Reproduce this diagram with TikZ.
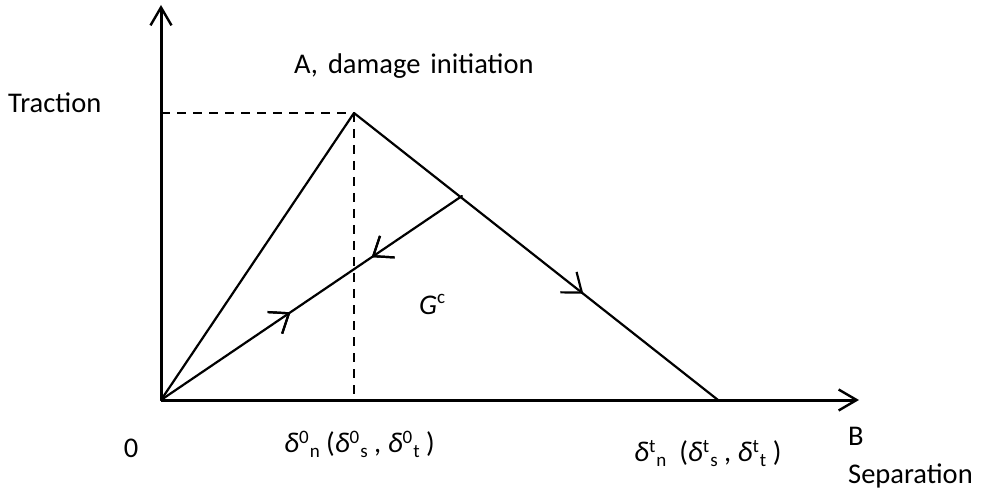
\documentclass[tikz,border=0pt]{standalone}
\usepackage{fontspec}
\setmainfont{Carlito}
\usetikzlibrary{arrows.meta,decorations.markings}
\newcommand{\smf}{\fontsize{19}{22}\selectfont}
\newcommand{\dl}[2]{\textit{δ}\raisebox{9pt}{\smf #1}\raisebox{-5pt}{\smf\kern1pt #2}}
\tikzset{
  barbtip/.tip={Straight Barb[length=17pt,width=26pt,line width=2.2pt]},
  axistip/.tip={Straight Barb[length=18pt,width=21pt,line width=2.4pt]},
  ln/.style={line width=2.2pt,line cap=round},
  axis/.style={line width=3pt,-axistip},
  dsh/.style={line width=2.5pt,dash pattern=on 9pt off 7pt},
  lbl/.style={font=\fontsize{28.5}{34}\selectfont,inner sep=0pt},
  midfwd/.style={postaction={decorate},decoration={markings,mark=at position #1 with {\arrow{barbtip}}}},
  midback/.style={postaction={decorate},decoration={markings,mark=at position #1 with {\arrowreversed{barbtip}}}}
}
\begin{document}
\begin{tikzpicture}[x=1pt,y=-1pt]
\useasboundingbox (0,0) rectangle (983,497);
\coordinate (O) at (161,400);
\coordinate (Ytop) at (161,5);
\coordinate (Xend) at (859,400);
\coordinate (A) at (354,113);
\coordinate (Ay) at (161,113);
\coordinate (Ax) at (354,400);
\coordinate (Bd) at (718,400);
\coordinate (U) at (462,196);
\draw[axis] (O) -- (Ytop);
\draw[axis] (O) -- (Xend);
\draw[dsh] (Ay) -- (A);
\draw[dsh] (A) -- (Ax);
\draw[ln] (O) -- (A);
\draw[ln,midfwd=0.63] (A) -- (Bd);
\draw[ln,midfwd=0.43,midback=0.70] (O) -- (U);
\node[lbl,anchor=base west] (trac) at (8,113) {Traction};
\node[lbl,anchor=base west] (init) at (294,74) {A,\hspace{10pt}damage\hspace{10pt}initiation};
\node[lbl,anchor=base] (zero) at (131,457) {0};
\node[lbl,anchor=base west] (d0) at (284,452) {\dl{0}{n} (\dl{0}{s} , \dl{0}{t} )};
\node[lbl,anchor=base west] (gc) at (419,314) {\textit{G}\raisebox{11pt}{\smf c}};
\node[lbl,anchor=base west] (dt) at (634,461) {\dl{t}{n}\ \ (\dl{t}{s} , \dl{t}{t} )};
\node[lbl,anchor=base west] (B) at (848,445) {B};
\node[lbl,anchor=base west] (sep) at (848,483) {Separation};
\end{tikzpicture}
\end{document}
